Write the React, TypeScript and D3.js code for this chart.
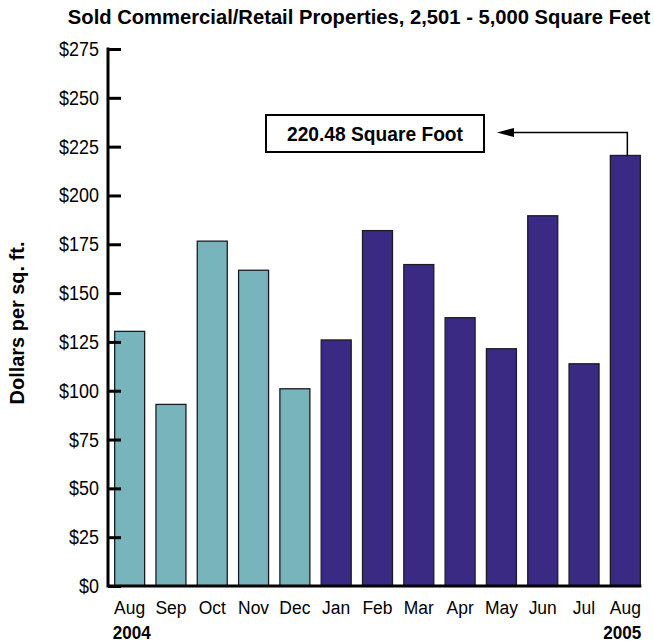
import React, { useEffect, useRef } from "react";
import * as d3 from "d3";

const months = ["Aug", "Sep", "Oct", "Nov", "Dec", "Jan", "Feb", "Mar", "Apr", "May", "Jun", "Jul", "Aug"];
const values = [130.4, 93, 176.6, 161.7, 101, 126, 182, 164.6, 137.4, 121.5, 189.6, 113.8, 220.48];
const yearOf = [2004, 2004, 2004, 2004, 2004, 2005, 2005, 2005, 2005, 2005, 2005, 2005, 2005];
const yTicks = [0, 25, 50, 75, 100, 125, 150, 175, 200, 225, 250, 275];
const title = "Sold Commercial/Retail Properties, 2,501 - 5,000 Square Feet";
const yTitle = "Dollars per sq. ft.";
const callout = "220.48 Square Foot";

const FONT = "'Liberation Sans', Arial, sans-serif";
const yearColor: Record<number, string> = { 2004: "#77b4bc", 2005: "#3b2a84" };

export default function App() {
  const ref = useRef<SVGSVGElement>(null);

  useEffect(() => {
    const width = 654;
    const height = 643;
    const svg = d3.select(ref.current).attr("width", width).attr("height", height);
    svg.selectAll("*").remove();

    const x = d3.scaleBand<number>()
      .domain(d3.range(months.length))
      .range([109, 646])
      .paddingInner(0.274)
      .paddingOuter(0.137);
    const y = d3.scaleLinear().domain([0, 275]).range([586, 49]);
    const axisX = 108;

    // helper for text; sx narrows glyphs a little like the original condensed face
    const label = (px: number, py: number, txt: string | number, anchor = "start", bold = false,
                   size = 18, sx = 1, rot = 0) =>
      svg.append("text")
        .attr("transform", `translate(${px},${py})${rot ? ` rotate(${rot})` : ""} scale(${sx},1)`)
        .attr("text-anchor", anchor)
        .style("font-family", FONT)
        .style("font-size", `${size}px`)
        .style("font-weight", bold ? "bold" : "normal")
        .text(txt);

    label(359, 24, title, "middle", true, 20.2);

    // bars
    svg.append("g").selectAll("rect").data(values).enter()
      .append("rect")
      .attr("x", (d, i) => x(i)!)
      .attr("y", d => y(d))
      .attr("width", x.bandwidth())
      .attr("height", d => y(0) - y(d))
      .attr("fill", (d, i) => yearColor[yearOf[i]])
      .attr("stroke", "#1c1c24")
      .attr("stroke-width", 1.3);

    // y axis: ticks point into the plot
    const yAxis = d3.axisRight(y).tickValues(yTicks).tickSize(13).tickFormat(() => "");
    const gy = svg.append("g").attr("transform", `translate(${axisX},0)`).call(yAxis);
    gy.select(".domain").remove();
    gy.selectAll("line").attr("stroke", "#000").attr("stroke-width", 3);
    svg.append("line")
      .attr("x1", axisX).attr("x2", axisX)
      .attr("y1", y(275) - 1.5).attr("y2", y(0) + 1.5)
      .attr("stroke", "#000").attr("stroke-width", 3);
    yTicks.forEach(v => label(99, y(v) + 7, `$${v}`, "end", false, 19.5, 0.92));

    // x baseline
    svg.append("line")
      .attr("x1", axisX).attr("x2", x(months.length - 1)! + x.bandwidth() + 1)
      .attr("y1", y(0)).attr("y2", y(0))
      .attr("stroke", "#000").attr("stroke-width", 3);

    // month and year labels
    months.forEach((m, i) => label(x(i)! + x.bandwidth() / 2, 614, m, "middle", false, 19, 0.92));
    label(x(0)! - 2, 639, yearOf[0], "start", true, 19, 0.9);
    label(x(months.length - 1)! + x.bandwidth() + 1, 639, yearOf[months.length - 1], "end", true, 19, 0.9);

    // y title
    label(24, 323, yTitle, "middle", true, 21, 0.95, -90);

    // callout for the last bar
    const last = months.length - 1;
    const lx = x(last)! + x.bandwidth() / 2 + 2;
    const ly = 132.5;
    svg.append("rect")
      .attr("x", 266).attr("y", 115)
      .attr("width", 218).attr("height", 37)
      .attr("fill", "#fff")
      .attr("stroke", "#000")
      .attr("stroke-width", 2);
    label(375, 141, callout, "middle", true, 20, 0.96);
    svg.append("path")
      .attr("d", `M${lx},${y(values[last])} V${ly} H512`)
      .attr("fill", "none")
      .attr("stroke", "#000")
      .attr("stroke-width", 1.5);
    svg.append("path")
      .attr("d", `M497,${ly} L514,${ly - 4.5} L514,${ly + 4.5} Z`)
      .attr("fill", "#000");
  }, []);

  return <svg ref={ref} style={{ position: "absolute", left: 0, top: 0 }}></svg>;
}
